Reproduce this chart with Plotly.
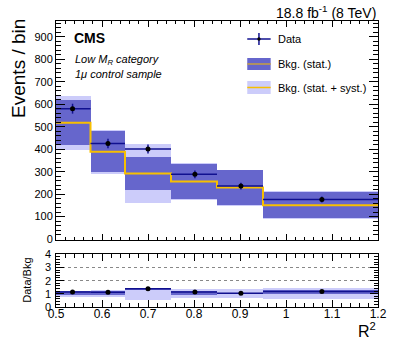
import plotly.graph_objects as go

# Binning in R^2 and values.
edges = [0.5, 0.575, 0.65, 0.75, 0.85, 0.95, 1.2]
data_x = [0.536, 0.613, 0.700, 0.802, 0.902, 1.078]
data_y = [580, 425, 401, 288, 236, 176]
data_err = [22, 21, 20, 17, 15, 13]
bkg = [517, 388, 292, 256, 229, 151]
bkg_stat = [100, 91, 74, 76, 77, 59]
bkg_tot = [120, 97, 133, 82, 80, 62]
ratio_dark_lo = [0.93, 0.93, 1.26, 0.93, 1.00, 1.00]
ratio_dark_hi = [1.22, 1.18, 1.43, 1.20, 1.02, 1.30]
x_ticks = [0.5, 0.6, 0.7, 0.8, 0.9, 1.0, 1.1, 1.2]
x_ticklabels = ['0.5', '0.6', '0.7', '0.8', '0.9', '1', '1.1', '1.2']
ratio_ticks = [0, 1, 2, 3, 4]

DARK = '#6666cc'
LIGHT = '#ccccfa'
YELLOW = '#f7bf00'
NAVY = '#10108f'
FONT = 'Liberation Sans'

centers = [(a + b) / 2 for a, b in zip(edges[:-1], edges[1:])]
widths = [b - a for a, b in zip(edges[:-1], edges[1:])]
xm = [x - a for x, a in zip(data_x, edges[:-1])]
xp = [b - x for x, b in zip(data_x, edges[1:])]

fig = go.Figure()

# Upper panel: bands, background line, data.
fig.add_bar(x=centers, width=widths, base=[b - e for b, e in zip(bkg, bkg_tot)],
            y=[2 * e for e in bkg_tot], marker=dict(color=LIGHT, line_width=0),
            xaxis='x', yaxis='y')
fig.add_bar(x=centers, width=widths, base=[b - e for b, e in zip(bkg, bkg_stat)],
            y=[2 * e for e in bkg_stat], marker=dict(color=DARK, line_width=0),
            xaxis='x', yaxis='y')
fig.add_scatter(x=edges, y=bkg + [bkg[-1]], mode='lines', line_shape='hv',
                line=dict(color=YELLOW, width=2), xaxis='x', yaxis='y')
fig.add_scatter(x=data_x, y=data_y, mode='markers',
                marker=dict(color='black', size=5),
                error_x=dict(type='data', symmetric=False, array=xp, arrayminus=xm,
                             color=NAVY, thickness=1.5, width=0),
                error_y=dict(type='data', array=data_err, color=NAVY,
                             thickness=1.5, width=0),
                xaxis='x', yaxis='y')

# Ratio panel.
rel_tot = [e / b for e, b in zip(bkg_tot, bkg)]
fig.add_bar(x=centers, width=widths, base=[1 - r for r in rel_tot],
            y=[2 * r for r in rel_tot], marker=dict(color=LIGHT, line_width=0),
            xaxis='x2', yaxis='y2')
fig.add_bar(x=centers, width=widths, base=ratio_dark_lo,
            y=[h - l for l, h in zip(ratio_dark_lo, ratio_dark_hi)],
            marker=dict(color=DARK, line_width=0), xaxis='x2', yaxis='y2')
ratio = [d / b for d, b in zip(data_y, bkg)]
ratio_err = [e / b for e, b in zip(data_err, bkg)]
fig.add_scatter(x=data_x, y=ratio, mode='markers',
                marker=dict(color='black', size=5),
                error_x=dict(type='data', symmetric=False, array=xp, arrayminus=xm,
                             color=NAVY, thickness=1.5, width=0),
                error_y=dict(type='data', array=ratio_err, color=NAVY,
                             thickness=1.5, width=0),
                xaxis='x2', yaxis='y2')

L, R, T, B = 56, 13, 21, 31
W, H = 399, 338
pw, ph = W - L - R, H - T - B


def px(x):
    return (x - L) / pw


def py(y):
    return (H - B - y) / ph


axis_common = dict(showline=True, linecolor='black', linewidth=1, mirror='allticks',
                   ticks='inside', tickcolor='black', zeroline=False, showgrid=False,
                   ticklabeloverflow='allow',
                   tickfont=dict(family=FONT, size=11, color='black'))

fig.update_layout(
    width=W, height=H, margin=dict(l=L, r=R, t=T, b=B),
    paper_bgcolor='white', plot_bgcolor='white', showlegend=False,
    barmode='overlay', bargap=0,
    font=dict(family=FONT, color='black'),
    xaxis=dict(axis_common, domain=[0, 1], range=[0.5, 1.2], anchor='y',
               tickvals=x_ticks, showticklabels=False, ticklen=6,
               minor=dict(dtick=0.02, ticks='inside', ticklen=3, tickcolor='black')),
    yaxis=dict(axis_common, domain=[py(240), 1], range=[-4, 970], anchor='x',
               tickvals=list(range(0, 1000, 100)), ticklen=9,
               minor=dict(dtick=20, ticks='inside', ticklen=5, tickcolor='black')),
    xaxis2=dict(axis_common, domain=[0, 1], range=[0.5, 1.2], anchor='y2',
                tickvals=x_ticks, ticktext=x_ticklabels, ticklen=7,
                ticklabelstandoff=-4,
                tickfont=dict(family=FONT, size=12, color='black'),
                minor=dict(dtick=0.02, ticks='inside', ticklen=4, tickcolor='black')),
    yaxis2=dict(axis_common, domain=[0, py(254)], range=[-0.02, 4.02], anchor='x2',
                tickvals=ratio_ticks, showticklabels=False, ticklen=8,
                showgrid=True, gridcolor='#888888', griddash='dot', gridwidth=1,
                minor=dict(dtick=0.2, ticks='inside', ticklen=4, tickcolor='black')),
)

# Ratio-axis tick labels, placed on the y2 scale.
for t in ratio_ticks:
    fig.add_annotation(xref='paper', yref='y2', x=px(53), y=t, text=str(t),
                       xanchor='right', yanchor='middle', showarrow=False,
                       font=dict(size=11))

ann = [
    dict(text='18.8 fb<sup>-1</sup> (8 TeV)', x=1, y=py(12), xanchor='right',
         yanchor='middle', font=dict(size=14)),
    dict(text='<b>CMS</b>', x=px(72), y=py(38), xanchor='left', yanchor='middle',
         font=dict(size=14)),
    dict(text='<i>Low M<sub>R</sub> category</i>', x=px(73), y=py(60),
         xanchor='left', yanchor='middle', font=dict(size=11)),
    dict(text='<i>1μ control sample</i>', x=px(73), y=py(74),
         xanchor='left', yanchor='middle', font=dict(size=11)),
    dict(text='Events / bin', x=px(17), y=py(68), textangle=-90,
         xanchor='center', yanchor='middle', font=dict(size=19)),
    dict(text='Data/Bkg', x=px(26), y=py(280), textangle=-90,
         xanchor='center', yanchor='middle', font=dict(size=11)),
    dict(text='R<sup>2</sup>', x=1, y=py(330), xanchor='right',
         yanchor='middle', font=dict(size=16)),
    dict(text='Data', x=px(281), y=py(39), xanchor='left', yanchor='middle',
         font=dict(size=11)),
    dict(text='Bkg. (stat.)', x=px(281), y=py(64), xanchor='left',
         yanchor='middle', font=dict(size=11)),
    dict(text='Bkg. (stat. + syst.)', x=px(281), y=py(88), xanchor='left',
         yanchor='middle', font=dict(size=11)),
]
for a in ann:
    fig.add_annotation(xref='paper', yref='paper', showarrow=False, **a)

# Hand-drawn legend symbols.
shp = [
    dict(type='rect', x0=px(252), x1=px(276), y0=py(58), y1=py(70),
         fillcolor=DARK, line_width=0),
    dict(type='line', x0=px(252), x1=px(276), y0=py(64), y1=py(64),
         line=dict(color='#c8a040', width=1.5)),
    dict(type='rect', x0=px(252), x1=px(276), y0=py(81), y1=py(94),
         fillcolor=LIGHT, line_width=0),
    dict(type='line', x0=px(252), x1=px(276), y0=py(87.5), y1=py(87.5),
         line=dict(color=YELLOW, width=1.5)),
    dict(type='line', x0=px(252), x1=px(276), y0=py(39), y1=py(39),
         line=dict(color=NAVY, width=1.5)),
    dict(type='line', x0=px(264), x1=px(264), y0=py(33), y1=py(45),
         line=dict(color=NAVY, width=1.5)),
    dict(type='circle', x0=px(262.3), x1=px(265.7), y0=py(37.3), y1=py(40.7),
         fillcolor='black', line_width=0),
]
for s in shp:
    fig.add_shape(xref='paper', yref='paper', **s)

fig.write_html('out.html', config={'displayModeBar': False},
               post_script="document.body.style.margin='0';")
